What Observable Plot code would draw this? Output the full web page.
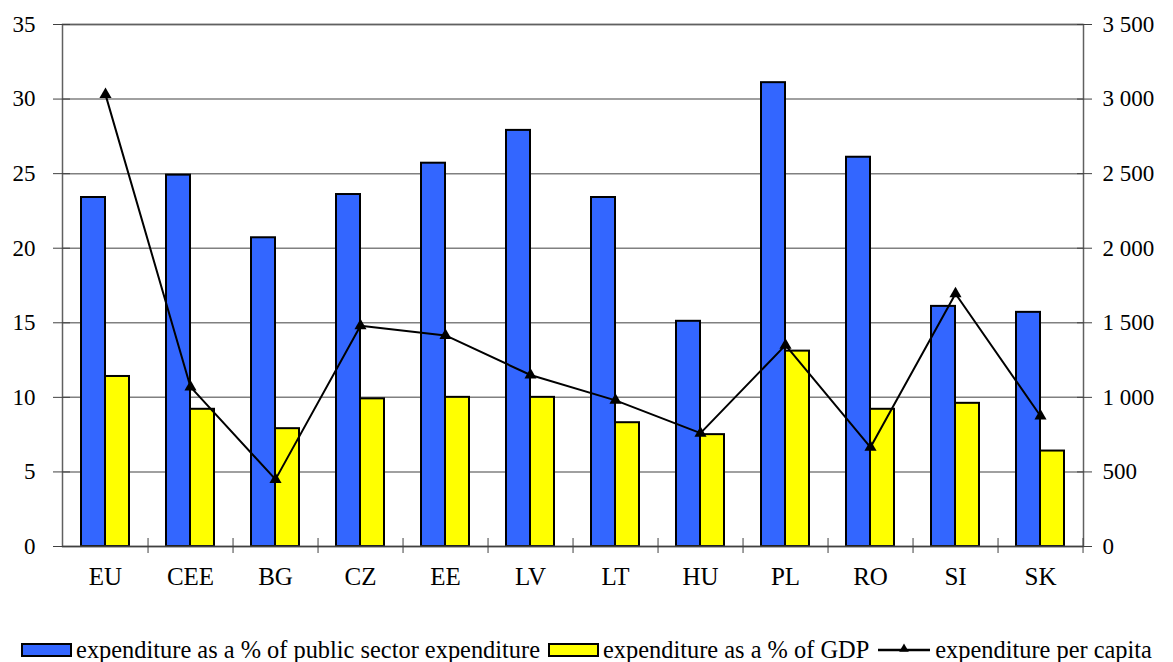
<!DOCTYPE html>
<html><head><meta charset="utf-8">
<script src="https://cdn.jsdelivr.net/npm/d3@7"></script>
<script src="https://cdn.jsdelivr.net/npm/@observablehq/plot@0.6"></script>
<style>
body{margin:0;background:#fff;font-family:"Times New Roman","Liberation Serif","DejaVu Serif",serif;}
#chart svg{display:block}
#legend{display:flex;justify-content:center;align-items:center;font-size:24.4px;height:50px;margin-top:13px;white-space:nowrap;color:#000}
.item{display:flex;align-items:center;margin:0 4px}
.sw{width:47px;height:10px;border:2px solid #000;margin-right:4px;box-sizing:content-box}
</style></head>
<body>
<div id="chart"></div>
<div id="legend"></div>
<script>
const categories = ["EU","CEE","BG","CZ","EE","LV","LT","HU","PL","RO","SI","SK"];
const pctPublic = [23.4,24.9,20.7,23.6,25.7,27.9,23.4,15.1,31.1,26.1,16.1,15.7];
const pctGDP = [11.4,9.2,7.9,9.9,10.0,10.0,8.3,7.5,13.1,9.2,9.6,6.4];
const perCapita = [3030,1070,450,1480,1415,1150,980,760,1350,665,1695,875];
const leftTicks = [0,5,10,15,20,25,30,35];
const seriesNames = ["expenditure as a % of public sector expenditure","expenditure as a % of GDP","expenditure per capita"];
const colors = ["#3366ff","#ffff00","#000000"];

const rows = categories.map((c,i)=>({cat:c, pub:pctPublic[i], gdp:pctGDP[i], pc:perCapita[i]}));
const ratio = 3500/35; // right axis max / left axis max
const loc = d3.formatLocale({decimal:".", thousands:" ", grouping:[3], currency:["",""]});
const fmt = loc.format(",");

const W = 1173, ML = 62, MR = 90;
const step = (W-ML-MR)/categories.length;

const chart = Plot.plot({
  width: W, height: 612,
  marginLeft: ML, marginRight: MR, marginTop: 24, marginBottom: 66,
  style: {fontFamily: "'Times New Roman', 'Liberation Serif', 'DejaVu Serif', serif", fontSize: "23px", color: "#000", background: "#fff"},
  x: {domain: categories, paddingInner: 0.718, paddingOuter: 0.359, label: null},
  y: {domain: [0,35], label: null},
  marks: [
    Plot.gridY(leftTicks.slice(1), {stroke: "#808080", strokeOpacity: 1, strokeWidth: 1.5}),
    Plot.barY(rows, {x: "cat", y: "pub", dx: -12, fill: colors[0], stroke: "#000", strokeWidth: 2}),
    Plot.barY(rows, {x: "cat", y: "gdp", dx: 12, fill: colors[1], stroke: "#000", strokeWidth: 2}),
    Plot.frame({stroke: "#606060", strokeWidth: 1.5}),
    Plot.ruleY([0], {stroke: "#404040", strokeWidth: 1.5}),
    Plot.line(rows, {x: "cat", y: d => d.pc/ratio, stroke: "#000", strokeWidth: 2}),
    Plot.dot(rows, {x: "cat", y: d => d.pc/ratio, symbol: "triangle", r: 4.5, fill: "#000", stroke: "none"}),
    Plot.axisY({anchor: "left", ticks: leftTicks, tickSize: 17, dx: 8, tickFormat: () => "", label: null, stroke: "#404040"}),
    Plot.axisY({anchor: "left", ticks: leftTicks, tickSize: 0, tickPadding: 27, label: null}),
    Plot.axisY({anchor: "right", ticks: leftTicks, tickSize: 15, dx: -7, tickFormat: () => "", label: null, stroke: "#404040"}),
    Plot.axisY({anchor: "right", ticks: leftTicks, tickSize: 0, tickPadding: 19, label: null, tickFormat: d => fmt(d*ratio)}),
    Plot.axisX({anchor: "bottom", tickSize: 0, tickPadding: 21, label: null, fontSize: 25}),
    Plot.axisX({anchor: "bottom", tickSize: 15, dy: -8, dx: step/2, tickFormat: () => "", label: null, stroke: "#404040"})
  ]
});
document.getElementById("chart").appendChild(chart);

const legend = document.getElementById("legend");
seriesNames.forEach((name,i)=>{
  const it = document.createElement("div"); it.className = "item";
  if (i < 2) {
    const sw = document.createElement("div"); sw.className = "sw"; sw.style.background = colors[i];
    it.appendChild(sw);
  } else {
    const ns = "http://www.w3.org/2000/svg";
    const s = document.createElementNS(ns,"svg"); s.setAttribute("width","54"); s.setAttribute("height","14"); s.style.marginRight="4px";
    const l = document.createElementNS(ns,"line"); l.setAttribute("x1","1"); l.setAttribute("x2","53"); l.setAttribute("y1","7"); l.setAttribute("y2","7"); l.setAttribute("stroke","#000"); l.setAttribute("stroke-width","2.5");
    const p = document.createElementNS(ns,"path"); p.setAttribute("d", d3.symbol(d3.symbolTriangle, 40)()); p.setAttribute("transform","translate(27,6)");
    s.appendChild(l); s.appendChild(p); it.appendChild(s);
  }
  const t = document.createElement("span"); t.textContent = name; it.appendChild(t);
  legend.appendChild(it);
});
</script>
</body></html>
